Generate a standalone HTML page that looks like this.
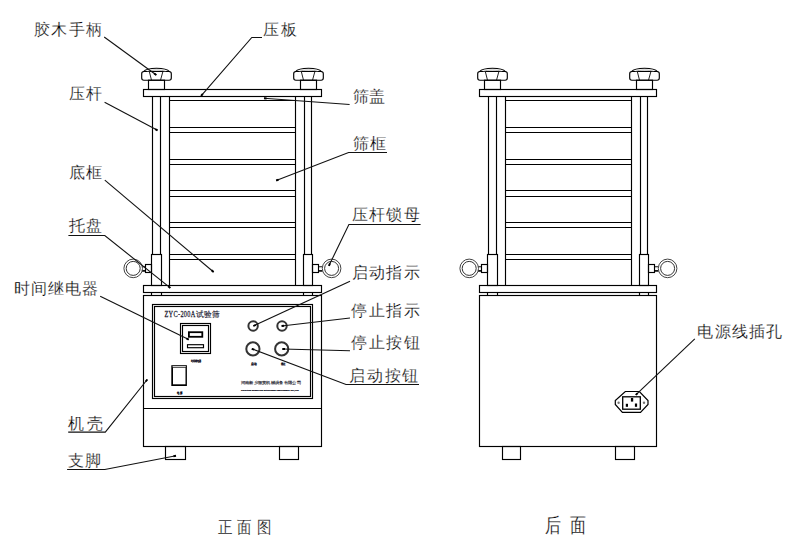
<!DOCTYPE html>
<html><head><meta charset="utf-8"><style>
html,body{margin:0;padding:0;background:#fff;width:790px;height:552px;overflow:hidden}
svg{display:block;font-family:"Liberation Sans",sans-serif}
.lb{paint-order:fill;stroke:#fff;stroke-width:0.22}
</style></head><body>
<svg width="790" height="552" viewBox="0 0 790 552">
<rect width="790" height="552" fill="#fff"/>
<g id="tp">
<rect x="141.7" y="71.5" width="29.6" height="8.7" rx="2.2" stroke="#000" stroke-width="1.15" fill="none"/>
<path d="M143.3,71.8 C147.5,67.1 165.5,67.1 169.7,71.8" stroke="#000" stroke-width="1.15" fill="none"/>
<path d="M147.5,71.4 C151.5,69.6 161.5,69.6 165.5,71.4" stroke="#888" stroke-width="0.7" fill="none"/>
<line x1="149.3" y1="71.5" x2="151.5" y2="80.2" stroke="#222" stroke-width="1.0"/>
<line x1="162.9" y1="71.5" x2="160.5" y2="80.2" stroke="#222" stroke-width="1.0"/>
<rect x="148.5" y="80.2" width="16" height="9.3" rx="0" stroke="#000" stroke-width="1.15" fill="none"/>
<rect x="293.7" y="71.5" width="29.6" height="8.7" rx="2.2" stroke="#000" stroke-width="1.15" fill="none"/>
<path d="M295.3,71.8 C299.5,67.1 317.5,67.1 321.7,71.8" stroke="#000" stroke-width="1.15" fill="none"/>
<path d="M299.5,71.4 C303.5,69.6 313.5,69.6 317.5,71.4" stroke="#888" stroke-width="0.7" fill="none"/>
<line x1="301.3" y1="71.5" x2="303.5" y2="80.2" stroke="#222" stroke-width="1.0"/>
<line x1="314.9" y1="71.5" x2="312.5" y2="80.2" stroke="#222" stroke-width="1.0"/>
<rect x="300.5" y="80.2" width="16" height="9.3" rx="0" stroke="#000" stroke-width="1.15" fill="none"/>
<line x1="152.5" y1="96.5" x2="152.5" y2="254.5" stroke="#000" stroke-width="1.15"/>
<line x1="160.5" y1="96.5" x2="160.5" y2="254.5" stroke="#000" stroke-width="1.15"/>
<line x1="304.5" y1="96.5" x2="304.5" y2="254.5" stroke="#000" stroke-width="1.15"/>
<line x1="311.5" y1="96.5" x2="311.5" y2="254.5" stroke="#000" stroke-width="1.15"/>
<line x1="169.5" y1="96.5" x2="169.5" y2="285.5" stroke="#000" stroke-width="1.15"/>
<line x1="295.5" y1="96.5" x2="295.5" y2="285.5" stroke="#000" stroke-width="1.15"/>
<line x1="169.5" y1="100.5" x2="295.5" y2="100.5" stroke="#000" stroke-width="1.15"/>
<line x1="169.5" y1="127.5" x2="295.5" y2="127.5" stroke="#000" stroke-width="1.15"/>
<line x1="169.5" y1="132.5" x2="295.5" y2="132.5" stroke="#000" stroke-width="1.15"/>
<line x1="169.5" y1="159.5" x2="295.5" y2="159.5" stroke="#000" stroke-width="1.15"/>
<line x1="169.5" y1="164.5" x2="295.5" y2="164.5" stroke="#000" stroke-width="1.15"/>
<line x1="169.5" y1="190.5" x2="295.5" y2="190.5" stroke="#000" stroke-width="1.15"/>
<line x1="169.5" y1="196.5" x2="295.5" y2="196.5" stroke="#000" stroke-width="1.15"/>
<line x1="169.5" y1="222.5" x2="295.5" y2="222.5" stroke="#000" stroke-width="1.15"/>
<line x1="169.5" y1="227.5" x2="295.5" y2="227.5" stroke="#000" stroke-width="1.15"/>
<line x1="169.5" y1="254.5" x2="295.5" y2="254.5" stroke="#000" stroke-width="1.15"/>
<line x1="169.5" y1="259.5" x2="295.5" y2="259.5" stroke="#000" stroke-width="1.15"/>
<rect x="151.5" y="254.5" width="10" height="31" rx="0" stroke="#000" stroke-width="1.15" fill="none"/>
<rect x="303.5" y="254.5" width="9" height="31" rx="0" stroke="#000" stroke-width="1.15" fill="none"/>
<rect x="145.5" y="264.5" width="6" height="8" rx="0" stroke="#000" stroke-width="1.15" fill="none"/>
<rect x="142" y="266.3" width="3.6" height="0.95" fill="#000"/>
<rect x="142" y="270.1" width="3.6" height="1.6" fill="#000"/>
<rect x="312.5" y="264.5" width="6" height="8" rx="0" stroke="#000" stroke-width="1.15" fill="none"/>
<rect x="318.4" y="266.3" width="4.2" height="0.95" fill="#000"/>
<rect x="318.4" y="270.1" width="4.2" height="1.6" fill="#000"/>
<circle cx="133.2" cy="268.4" r="9.3" stroke="#444" stroke-width="1.0" fill="#fff"/>
<circle cx="133.2" cy="268.4" r="7.0" stroke="#333" stroke-width="1.0" fill="none"/>
<circle cx="331.6" cy="268.4" r="9.3" stroke="#444" stroke-width="1.0" fill="#fff"/>
<circle cx="331.6" cy="268.4" r="7.0" stroke="#333" stroke-width="1.0" fill="none"/>
<line x1="151.5" y1="292.5" x2="151.5" y2="295.5" stroke="#000" stroke-width="1.15"/>
<line x1="161.5" y1="292.5" x2="161.5" y2="295.5" stroke="#000" stroke-width="1.15"/>
<line x1="303.5" y1="292.5" x2="303.5" y2="295.5" stroke="#000" stroke-width="1.15"/>
<line x1="312.5" y1="292.5" x2="312.5" y2="295.5" stroke="#000" stroke-width="1.15"/>
</g>
<use href="#tp" x="336" y="0"/>
<rect x="143.5" y="89.5" width="178" height="7" stroke="#000" stroke-width="1.15" fill="none"/>
<rect x="143.5" y="285.5" width="178" height="7" stroke="#000" stroke-width="1.15" fill="none"/>
<rect x="143.5" y="295.5" width="178" height="151" stroke="#000" stroke-width="1.15" fill="none"/>
<rect x="479.5" y="89.5" width="177" height="7" stroke="#000" stroke-width="1.15" fill="none"/>
<rect x="479.5" y="285.5" width="177" height="7" stroke="#000" stroke-width="1.15" fill="none"/>
<rect x="479.5" y="295.5" width="177" height="151" stroke="#000" stroke-width="1.15" fill="none"/>
<rect x="165.5" y="446.5" width="20" height="13" stroke="#000" stroke-width="1.15" fill="none"/>
<rect x="279.5" y="446.5" width="19" height="13" stroke="#000" stroke-width="1.15" fill="none"/>
<rect x="502.5" y="446.5" width="18" height="13" stroke="#000" stroke-width="1.15" fill="none"/>
<rect x="615.5" y="446.5" width="19" height="13" stroke="#000" stroke-width="1.15" fill="none"/>
<line x1="143.5" y1="408.5" x2="321.5" y2="408.5" stroke="#000" stroke-width="1.15"/>
<rect x="152.5" y="304.5" width="160" height="94" stroke="#000" stroke-width="1.15" fill="none"/>
<rect x="154.5" y="306.5" width="156" height="90" stroke="#000" stroke-width="1.15" fill="none"/>
<rect x="180.5" y="323.5" width="30" height="30" stroke="#000" stroke-width="1.15" fill="none"/>
<rect x="182.5" y="325.5" width="26" height="26" stroke="#000" stroke-width="1.15" fill="none"/>
<rect x="188.9" y="332.2" width="13.4" height="4.6" stroke="#000" stroke-width="1.8" fill="none"/>
<rect x="187.5" y="344.7" width="16" height="3" stroke="#000" stroke-width="1.15" fill="none"/>
<rect x="171.3" y="365.2" width="15.6" height="20.8" fill="#000"/>
<rect x="173" y="367.8" width="12.5" height="16.5" fill="#fff"/>
<rect x="172.6" y="366.2" width="13.2" height="1.0" fill="#fff"/>
<circle cx="253.1" cy="326" r="4.7" stroke="#333" stroke-width="2" fill="none"/>
<circle cx="282" cy="326" r="4.7" stroke="#333" stroke-width="2" fill="none"/>
<circle cx="252.9" cy="348.9" r="6.6" stroke="#333" stroke-width="2" fill="none"/>
<circle cx="281.7" cy="348.9" r="6.6" stroke="#333" stroke-width="2" fill="none"/>
<path d="M625.3,391.5 L639.4,391.5 L648,400.5 L648,404.5 L640.5,412.3 L622.4,412.3 L615.3,404.5 L615.3,400.5 Z" stroke="#000" stroke-width="1.2" fill="none"/>
<rect x="622.7" y="396.8" width="17.6" height="12.4" stroke="#000" stroke-width="1.3" fill="none"/>
<rect x="630.9" y="398" width="2.3" height="3.6" fill="#000"/>
<rect x="625.8" y="403.8" width="2.2" height="3" fill="#000"/>
<rect x="634.9" y="403.5" width="2.2" height="3.3" fill="#000"/>
<circle cx="618.6" cy="402.7" r="1.2" fill="#777"/>
<circle cx="644" cy="402.7" r="1.2" fill="#777"/>
<path d="M104.2,37 L156.3,75" stroke="#111" stroke-width="1.1" fill="none"/>
<line x1="156.30" y1="75.00" x2="154.20" y2="73.47" stroke="#000" stroke-width="1.9"/>
<path d="M201.1,95.8 L251.8,37.5 L262,37.5" stroke="#111" stroke-width="1.1" fill="none"/>
<line x1="201.10" y1="95.80" x2="202.81" y2="93.84" stroke="#000" stroke-width="1.9"/>
<path d="M104.6,102.2 L157.5,130.3" stroke="#111" stroke-width="1.1" fill="none"/>
<line x1="157.50" y1="130.30" x2="155.20" y2="129.08" stroke="#000" stroke-width="1.9"/>
<path d="M264,98.3 L349.6,104.5" stroke="#111" stroke-width="1.1" fill="none"/>
<line x1="264.00" y1="98.30" x2="266.59" y2="98.49" stroke="#000" stroke-width="1.9"/>
<path d="M276.2,180.5 L348.6,152.5 L387,152.5" stroke="#111" stroke-width="1.1" fill="none"/>
<line x1="276.20" y1="180.50" x2="278.62" y2="179.56" stroke="#000" stroke-width="1.9"/>
<path d="M104.8,180.2 L213.6,272" stroke="#111" stroke-width="1.1" fill="none"/>
<line x1="213.60" y1="272.00" x2="211.61" y2="270.32" stroke="#000" stroke-width="1.9"/>
<path d="M328.9,265.8 L348.9,224.5 L420.6,224.5" stroke="#111" stroke-width="1.1" fill="none"/>
<line x1="328.90" y1="265.80" x2="330.03" y2="263.46" stroke="#000" stroke-width="1.9"/>
<path d="M68.4,235.5 L104.8,235.5 L170.3,287.9" stroke="#111" stroke-width="1.1" fill="none"/>
<line x1="170.30" y1="287.90" x2="168.27" y2="286.28" stroke="#000" stroke-width="1.9"/>
<path d="M253.4,326 L350,281.3" stroke="#111" stroke-width="1.1" fill="none"/>
<line x1="253.40" y1="326.00" x2="255.76" y2="324.91" stroke="#000" stroke-width="1.9"/>
<path d="M100.2,296.2 L188.7,339.6" stroke="#111" stroke-width="1.1" fill="none"/>
<line x1="188.70" y1="339.60" x2="186.37" y2="338.46" stroke="#000" stroke-width="1.9"/>
<path d="M281.6,326 L350,318" stroke="#111" stroke-width="1.1" fill="none"/>
<line x1="281.60" y1="326.00" x2="284.18" y2="325.70" stroke="#000" stroke-width="1.9"/>
<path d="M282.4,349 L350,350.7" stroke="#111" stroke-width="1.1" fill="none"/>
<line x1="282.40" y1="349.00" x2="285.00" y2="349.07" stroke="#000" stroke-width="1.9"/>
<path d="M251.8,348.8 L346,384.5 L419,384.5" stroke="#111" stroke-width="1.1" fill="none"/>
<line x1="251.80" y1="348.80" x2="254.23" y2="349.72" stroke="#000" stroke-width="1.9"/>
<path d="M68.2,432.1 L105.3,432.1 L147.3,379.5" stroke="#111" stroke-width="1.1" fill="none"/>
<line x1="147.30" y1="379.50" x2="145.68" y2="381.53" stroke="#000" stroke-width="1.9"/>
<path d="M67.1,469.5 L104.8,469.5 L176,455.8" stroke="#111" stroke-width="1.1" fill="none"/>
<line x1="176.00" y1="455.80" x2="173.45" y2="456.29" stroke="#000" stroke-width="1.9"/>
<path d="M635.8,394.9 L694.8,338.9" stroke="#111" stroke-width="1.1" fill="none"/>
<line x1="635.80" y1="394.90" x2="637.69" y2="393.11" stroke="#000" stroke-width="1.9"/>
<text x="33.7" y="35.0" font-size="16" letter-spacing="1.57" fill="#000" class="lb">胶木手柄</text>
<text x="263.0" y="35.1" font-size="16" letter-spacing="1.70" fill="#000" class="lb">压板</text>
<text x="68.8" y="98.5" font-size="16" letter-spacing="1.40" fill="#000" class="lb">压杆</text>
<text x="352.7" y="101.9" font-size="16" letter-spacing="0.30" fill="#000" class="lb">筛盖</text>
<text x="353.1" y="149.1" font-size="16" letter-spacing="0.80" fill="#000" class="lb">筛框</text>
<text x="68.8" y="177.8" font-size="16" letter-spacing="1.40" fill="#000" class="lb">底框</text>
<text x="351.7" y="220.4" font-size="16" letter-spacing="1.30" fill="#000" class="lb">压杆锁母</text>
<text x="68.8" y="231.0" font-size="16" letter-spacing="1.70" fill="#000" class="lb">托盘</text>
<text x="352.3" y="278.1" font-size="16" letter-spacing="1.10" fill="#000" class="lb">启动指示</text>
<text x="13.5" y="293.6" font-size="16" letter-spacing="1.00" fill="#000" class="lb">时间继电器</text>
<text x="351.2" y="315.8" font-size="16" letter-spacing="1.47" fill="#000" class="lb">停止指示</text>
<text x="351.2" y="348.0" font-size="16" letter-spacing="1.60" fill="#000" class="lb">停止按钮</text>
<text x="349.1" y="380.6" font-size="16" letter-spacing="1.80" fill="#000" class="lb">启动按钮</text>
<text x="697.3" y="336.9" font-size="16" letter-spacing="1.23" fill="#000" class="lb">电源线插孔</text>
<text x="68.3" y="428.8" font-size="16" letter-spacing="2.30" fill="#000" class="lb">机壳</text>
<text x="68.3" y="465.7" font-size="16" letter-spacing="1.20" fill="#000" class="lb">支脚</text>
<text transform="translate(217.6,533.4) scale(0.85,1)" x="0" y="0" font-size="17" letter-spacing="5.8" fill="#000" class="lb">正面图</text>
<text transform="translate(545.2,531.9) scale(0.8,1)" x="0" y="0" font-size="20" letter-spacing="11" fill="#000" class="lb">后面</text>
<text transform="translate(164.4,317.4) scale(0.9,1.28)" x="0" y="0" font-family="Liberation Serif, serif" font-size="7" textLength="34.4" lengthAdjust="spacing" fill="#1a1a30" stroke="#1a1a30" stroke-width="0.2">ZYC-200A</text>
<text x="196.2" y="317.3" font-size="7.6" textLength="23" lengthAdjust="spacingAndGlyphs" fill="#1a1a30" stroke="#1a1a30" stroke-width="0.15">试验筛</text>
<text x="190.8" y="361.9" font-size="2.6" font-weight="bold" textLength="10.8" lengthAdjust="spacingAndGlyphs" fill="#112" stroke="#112" stroke-width="0.1">时间继电器</text>
<text x="177.3" y="394.3" font-size="2.8" font-weight="bold" textLength="4.7" lengthAdjust="spacingAndGlyphs" fill="#112" stroke="#112" stroke-width="0.12">电源</text>
<text x="251.3" y="365.3" font-size="2.8" font-weight="bold" textLength="5.5" lengthAdjust="spacingAndGlyphs" fill="#112" stroke="#112" stroke-width="0.12">启动</text>
<text x="280.6" y="365.3" font-size="2.8" font-weight="bold" textLength="5.1" lengthAdjust="spacingAndGlyphs" fill="#112" stroke="#112" stroke-width="0.12">停止</text>
<text x="240.6" y="384.4" font-size="4.4" textLength="60.3" lengthAdjust="spacingAndGlyphs" fill="#112" stroke="#112" stroke-width="0.12">河南新乡振英机械设备有限公司</text>
<text x="241.1" y="391.1" font-size="2.1" font-weight="bold" textLength="57.8" lengthAdjust="spacingAndGlyphs" fill="#112" stroke="#112" stroke-width="0.2" font-family="Liberation Sans, sans-serif">XINXIANG ZHENYING MACHINERY EQUIPMENT CO.,LTD</text>
</svg>
</body></html>
